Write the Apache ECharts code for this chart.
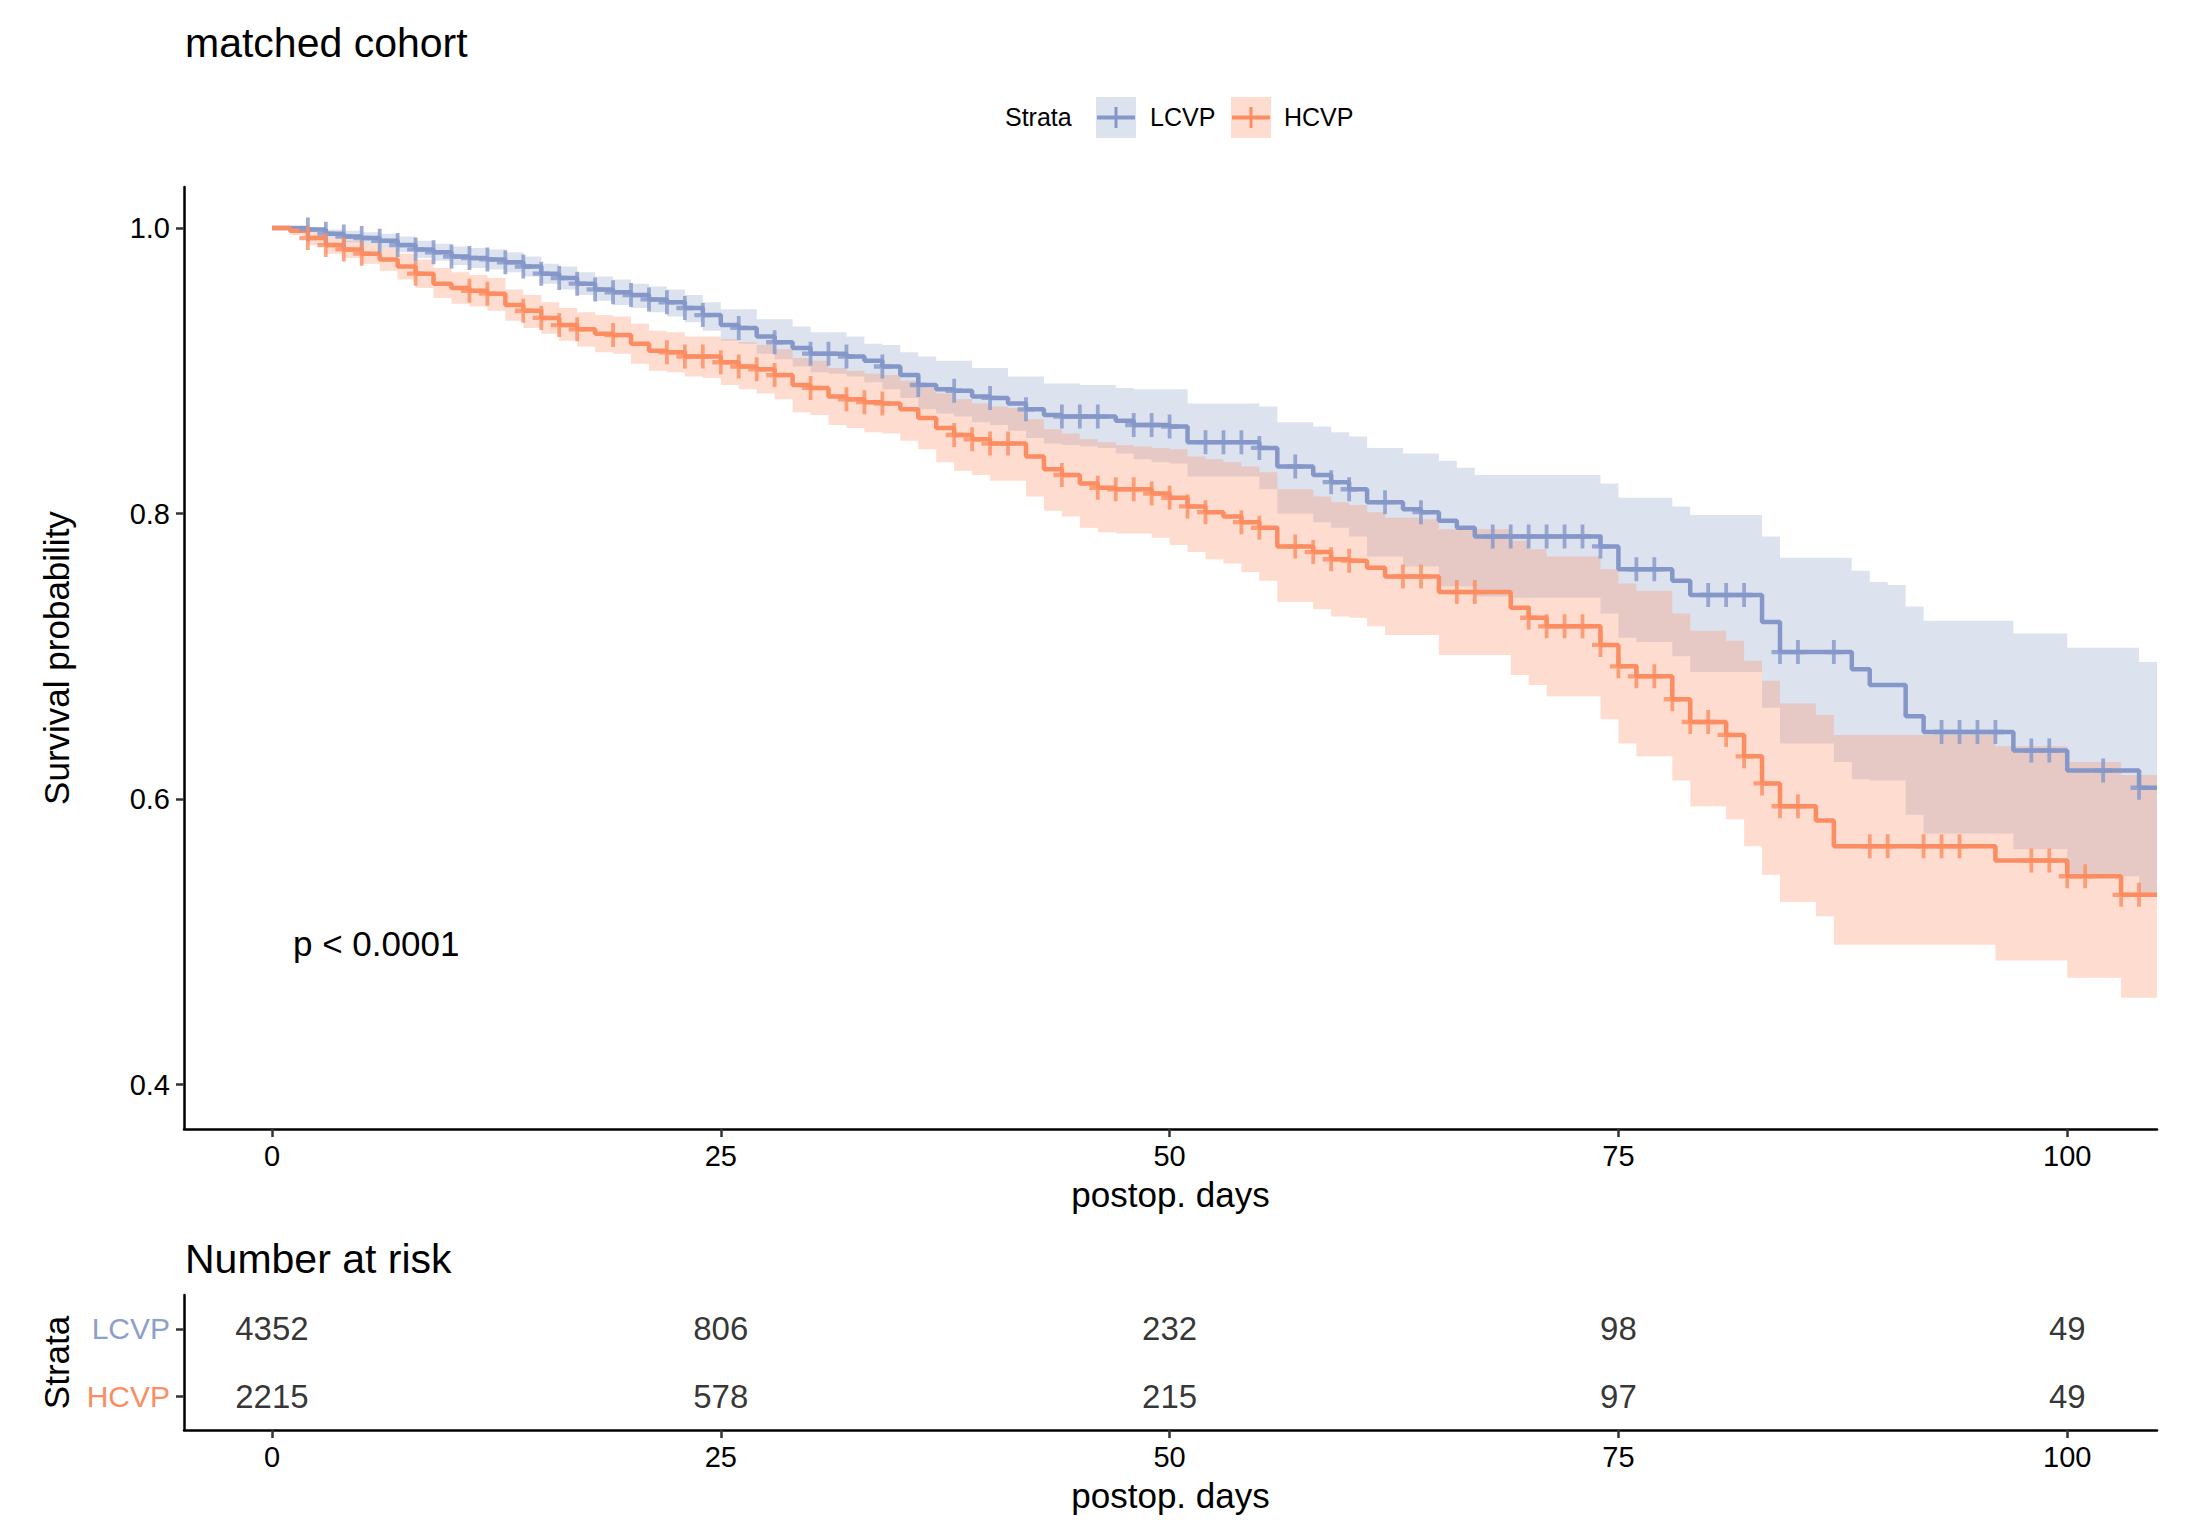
<!DOCTYPE html>
<html>
<head>
<meta charset="utf-8">
<script src="https://cdn.jsdelivr.net/npm/echarts@6/dist/echarts.min.js"></script>
<style>
html,body{margin:0;padding:0;background:#fff;}
#chart{width:2201px;height:1536px;}
</style>
</head>
<body>
<div id="chart"></div>
<script>
// ---- data (index = postoperative day 0..105) ----
const lcvpSurv = [1.000,1.000,0.999,0.996,0.994,0.993,0.991,0.988,0.985,0.983,
  0.980,0.979,0.978,0.976,0.973,0.968,0.965,0.961,0.957,0.955,
  0.953,0.950,0.948,0.944,0.939,0.932,0.930,0.924,0.920,0.916,
  0.912,0.912,0.910,0.907,0.903,0.897,0.890,0.887,0.886,0.882,
  0.881,0.877,0.873,0.869,0.868,0.868,0.868,0.865,0.862,0.862,
  0.861,0.850,0.850,0.850,0.850,0.846,0.833,0.833,0.827,0.822,
  0.817,0.808,0.808,0.803,0.801,0.795,0.790,0.784,0.784,0.784,
  0.784,0.784,0.784,0.784,0.777,0.761,0.761,0.761,0.753,0.743,
  0.743,0.743,0.743,0.724,0.703,0.703,0.703,0.703,0.691,0.680,
  0.680,0.658,0.647,0.647,0.647,0.647,0.647,0.634,0.634,0.634,
  0.620,0.620,0.620,0.620,0.608,0.608];
const lcvpUpper = [1.000,1.000,1.000,0.999,0.998,0.997,0.996,0.994,0.991,0.989,
  0.987,0.986,0.985,0.983,0.980,0.975,0.973,0.969,0.966,0.964,
  0.961,0.959,0.957,0.953,0.948,0.943,0.943,0.936,0.936,0.931,
  0.927,0.927,0.924,0.919,0.918,0.913,0.910,0.907,0.907,0.902,
  0.902,0.896,0.896,0.891,0.891,0.890,0.890,0.888,0.887,0.887,
  0.887,0.877,0.877,0.877,0.877,0.875,0.864,0.864,0.861,0.857,
  0.854,0.846,0.846,0.842,0.842,0.837,0.832,0.827,0.827,0.827,
  0.827,0.827,0.827,0.827,0.821,0.811,0.811,0.811,0.805,0.799,
  0.799,0.799,0.799,0.784,0.769,0.769,0.769,0.769,0.760,0.752,
  0.750,0.735,0.725,0.725,0.725,0.725,0.725,0.716,0.716,0.716,
  0.706,0.706,0.706,0.706,0.696,0.696];
const lcvpLower = [1.000,0.999,0.997,0.993,0.990,0.989,0.986,0.983,0.979,0.977,
  0.974,0.972,0.971,0.969,0.966,0.961,0.957,0.953,0.949,0.946,
  0.944,0.941,0.938,0.934,0.928,0.921,0.919,0.912,0.908,0.903,
  0.899,0.898,0.896,0.892,0.887,0.881,0.873,0.870,0.868,0.864,
  0.862,0.858,0.853,0.849,0.848,0.847,0.846,0.842,0.838,0.836,
  0.835,0.826,0.826,0.826,0.826,0.817,0.800,0.800,0.794,0.790,
  0.784,0.770,0.770,0.763,0.763,0.749,0.749,0.742,0.742,0.741,
  0.741,0.741,0.741,0.741,0.730,0.713,0.710,0.710,0.700,0.689,
  0.689,0.689,0.689,0.664,0.639,0.639,0.639,0.626,0.614,0.613,
  0.613,0.589,0.576,0.576,0.576,0.576,0.576,0.565,0.565,0.565,
  0.546,0.546,0.546,0.546,0.532,0.532];
const hcvpSurv = [1.000,0.998,0.993,0.988,0.985,0.982,0.978,0.973,0.968,0.961,
  0.958,0.956,0.954,0.946,0.942,0.937,0.932,0.929,0.926,0.925,
  0.919,0.914,0.913,0.910,0.910,0.906,0.903,0.901,0.897,0.890,
  0.888,0.882,0.880,0.878,0.877,0.873,0.867,0.860,0.855,0.852,
  0.849,0.849,0.840,0.831,0.827,0.821,0.818,0.817,0.817,0.814,
  0.811,0.805,0.801,0.798,0.794,0.790,0.777,0.777,0.773,0.768,
  0.767,0.762,0.756,0.756,0.756,0.745,0.745,0.745,0.745,0.734,
  0.727,0.721,0.721,0.721,0.708,0.693,0.686,0.686,0.670,0.654,
  0.654,0.645,0.630,0.611,0.595,0.595,0.585,0.567,0.567,0.567,
  0.567,0.567,0.567,0.567,0.567,0.567,0.557,0.557,0.557,0.557,
  0.546,0.546,0.546,0.533,0.533,0.533];
const hcvpUpper = [1.000,1.000,0.997,0.993,0.991,0.989,0.986,0.982,0.978,0.972,
  0.969,0.967,0.965,0.957,0.953,0.948,0.944,0.941,0.939,0.938,
  0.933,0.928,0.927,0.924,0.924,0.922,0.920,0.918,0.915,0.909,
  0.907,0.902,0.900,0.898,0.897,0.893,0.888,0.884,0.880,0.877,
  0.875,0.874,0.866,0.859,0.856,0.852,0.850,0.848,0.847,0.846,
  0.845,0.840,0.838,0.836,0.833,0.829,0.817,0.817,0.812,0.808,
  0.806,0.801,0.797,0.797,0.796,0.789,0.789,0.789,0.789,0.781,
  0.775,0.770,0.770,0.770,0.761,0.751,0.746,0.746,0.730,0.718,
  0.718,0.711,0.697,0.683,0.667,0.667,0.659,0.645,0.645,0.645,
  0.645,0.645,0.645,0.645,0.645,0.645,0.637,0.637,0.637,0.637,
  0.626,0.626,0.626,0.617,0.617,0.617];
const hcvpLower = [1.000,0.995,0.988,0.982,0.979,0.975,0.970,0.964,0.958,0.951,
  0.947,0.945,0.942,0.935,0.930,0.926,0.921,0.917,0.913,0.912,
  0.905,0.900,0.899,0.896,0.895,0.890,0.887,0.884,0.880,0.871,
  0.869,0.862,0.860,0.857,0.856,0.851,0.845,0.836,0.830,0.827,
  0.823,0.823,0.812,0.802,0.798,0.790,0.787,0.786,0.786,0.783,
  0.778,0.773,0.768,0.765,0.759,0.753,0.738,0.738,0.733,0.728,
  0.727,0.721,0.715,0.715,0.715,0.701,0.701,0.701,0.701,0.687,
  0.680,0.672,0.672,0.672,0.656,0.639,0.630,0.630,0.613,0.595,
  0.595,0.586,0.567,0.547,0.528,0.528,0.518,0.498,0.498,0.498,
  0.498,0.498,0.498,0.498,0.498,0.498,0.487,0.487,0.487,0.487,
  0.475,0.475,0.475,0.461,0.461,0.461];
// censoring marks (days)
const lcvpCensor = [2,3,4,5,6,7,8,9,10,11,12,13,14,15,16,17,18,19,20,21,22,23,24,26,28,30,31,32,34,36,38,40,42,44,45,46,48,49,50,52,53,54,55,57,59,60,62,64,68,69,70,71,72,73,74,76,77,80,81,82,84,85,87,93,94,95,96,98,99,102,104];
const hcvpCensor = [2,3,4,5,8,11,12,14,15,16,17,19,22,23,24,25,26,27,28,30,32,33,34,38,39,40,41,44,46,47,48,49,50,51,52,54,55,57,58,59,60,63,64,66,67,70,71,72,73,74,75,76,77,78,79,80,81,82,83,84,85,89,90,92,93,94,98,99,100,101,103,104];
// number at risk
const riskDays = [0,25,50,75,100];
const lcvpRisk = [4352,806,232,98,49];
const hcvpRisk = [2215,578,215,97,49];
const strata = ['HCVP','LCVP'];
const xTicks = [0,25,50,75,100];
const yTicks = [0.4,0.6,0.8,1.0];

// ---- styles ----
const FONT = "'Liberation Sans', Arial, sans-serif";
const BLUE = '#8497C8', ORANGE = '#FC8D62';
const BLUE_BAND = 'rgba(141,160,203,0.30)', ORANGE_BAND = 'rgba(252,141,98,0.30)';
const PLUS = 'path://M-2,-11H2V11H-2Z M-9,-2H9V2H-9Z';

const toXY = arr => arr.map((v, i) => [i, v]);
const censorPts = (days, surv) => days.map(d => [d, surv[d]]);

// confidence band drawn as one step polygon through the axis scales
function bandSeries(name, lo, hi, color) {
  return {
    name: name, type: 'custom', coordinateSystem: 'cartesian2d', z: 1, silent: true,
    data: [[0, hi[0]]],
    renderItem: function (params, api) {
      const pts = [];
      for (let i = 0; i < hi.length - 1; i++) {
        pts.push(api.coord([i, hi[i]]), api.coord([i + 1, hi[i]]));
      }
      for (let i = lo.length - 2; i >= 0; i--) {
        pts.push(api.coord([i + 1, lo[i]]), api.coord([i, lo[i]]));
      }
      return {type: 'polygon', shape: {points: pts}, style: {fill: color, stroke: null}};
    }
  };
}

const axisLineX = {show: true, onZero: false, lineStyle: {color: '#000', width: 2.5}};
const axisLineY = {show: true, onZero: false, lineStyle: {color: '#000', width: 2.5}};
const axisTick = (vals) => ({show: true, length: 8, lineStyle: {color: '#333', width: 2.5}, customValues: vals});

const chart = echarts.init(document.getElementById('chart'), null, {renderer: 'svg'});
chart.setOption({
  animation: false,
  backgroundColor: '#fff',
  textStyle: {fontFamily: FONT},
  grid: [
    {left: 184, right: 44, top: 187, bottom: 407},
    {left: 184, right: 44, top: 1295, bottom: 106}
  ],
  xAxis: [
    {type: 'value', gridIndex: 0, min: -4.9, max: 105, splitLine: {show: false},
     axisLine: axisLineX, axisTick: axisTick(xTicks),
     axisLabel: {customValues: xTicks, fontSize: 29, color: '#000', margin: 12, fontFamily: FONT},
     name: 'postop. days', nameLocation: 'middle', nameGap: 48,
     nameTextStyle: {fontSize: 35, color: '#000', fontFamily: FONT}},
    {type: 'value', gridIndex: 1, min: -4.9, max: 105, splitLine: {show: false},
     axisLine: axisLineX, axisTick: axisTick(xTicks),
     axisLabel: {customValues: xTicks, fontSize: 29, color: '#000', margin: 12, fontFamily: FONT},
     name: 'postop. days', nameLocation: 'middle', nameGap: 48,
     nameTextStyle: {fontSize: 35, color: '#000', fontFamily: FONT}}
  ],
  yAxis: [
    {type: 'value', gridIndex: 0, min: 0.369, max: 1.0287, splitLine: {show: false},
     axisLine: axisLineY, axisTick: axisTick(yTicks),
     axisLabel: {customValues: yTicks, fontSize: 29, color: '#000', margin: 14, fontFamily: FONT,
       formatter: v => v.toFixed(1)},
     name: 'Survival probability', nameLocation: 'middle', nameGap: 110, nameRotate: 90,
     nameTextStyle: {fontSize: 35, color: '#000', fontFamily: FONT}},
    {type: 'category', gridIndex: 1, data: strata, splitLine: {show: false},
     axisLine: axisLineY,
     axisTick: {show: true, alignWithLabel: true, length: 8, lineStyle: {color: '#333', width: 2.5}},
     axisLabel: {margin: 14, fontFamily: FONT,
       formatter: v => '{' + v + '|' + v + '}',
       rich: {LCVP: {color: '#8DA0CB', fontSize: 30, fontFamily: FONT},
              HCVP: {color: ORANGE, fontSize: 30, fontFamily: FONT}}},
     name: 'Strata', nameLocation: 'middle', nameGap: 110, nameRotate: 90,
     nameTextStyle: {fontSize: 35, color: '#000', fontFamily: FONT}}
  ],
  series: [
    bandSeries('LCVP 95% CI', lcvpLower, lcvpUpper, BLUE_BAND),
    bandSeries('HCVP 95% CI', hcvpLower, hcvpUpper, ORANGE_BAND),
    {name: 'LCVP', type: 'line', step: 'end', data: toXY(lcvpSurv), symbol: 'none', z: 2,
     lineStyle: {color: BLUE, width: 4.5}},
    {name: 'HCVP', type: 'line', step: 'end', data: toXY(hcvpSurv), symbol: 'none', z: 2,
     lineStyle: {color: ORANGE, width: 4.5}},
    {name: 'LCVP censor', type: 'scatter', data: censorPts(lcvpCensor, lcvpSurv), symbol: PLUS, z: 3,
     symbolSize: [17, 24], itemStyle: {color: BLUE}},
    {name: 'HCVP censor', type: 'scatter', data: censorPts(hcvpCensor, hcvpSurv), symbol: PLUS, z: 3,
     symbolSize: [17, 24], itemStyle: {color: ORANGE}},
    {name: 'risk LCVP', type: 'scatter', xAxisIndex: 1, yAxisIndex: 1, symbolSize: 2,
     itemStyle: {color: 'rgba(0,0,0,0)'},
     data: riskDays.map((d, i) => [d, 'LCVP', lcvpRisk[i]]),
     label: {show: true, position: 'inside', formatter: p => String(p.value[2]),
       fontSize: 33, color: '#000', fontFamily: FONT}},
    {name: 'risk HCVP', type: 'scatter', xAxisIndex: 1, yAxisIndex: 1, symbolSize: 2,
     itemStyle: {color: 'rgba(0,0,0,0)'},
     data: riskDays.map((d, i) => [d, 'HCVP', hcvpRisk[i]]),
     label: {show: true, position: 'inside', formatter: p => String(p.value[2]),
       fontSize: 33, color: '#000', fontFamily: FONT}}
  ],
  graphic: [
    {type: 'text', left: 185, top: 22, style: {text: 'matched cohort', fontSize: 41, fill: '#000', fontFamily: FONT}},
    {type: 'text', left: 185, top: 1238, style: {text: 'Number at risk', fontSize: 41, fill: '#000', fontFamily: FONT}},
    {type: 'text', left: 293, top: 926, style: {text: 'p < 0.0001', fontSize: 35, fill: '#000', fontFamily: FONT}},
    {type: 'text', left: 1005, top: 104, style: {text: 'Strata', fontSize: 25, fill: '#000', fontFamily: FONT}},
    {type: 'rect', shape: {x: 1096, y: 97, width: 40, height: 41}, style: {fill: BLUE_BAND}},
    {type: 'line', shape: {x1: 1097, y1: 117.5, x2: 1135, y2: 117.5}, style: {stroke: BLUE, lineWidth: 4}},
    {type: 'line', shape: {x1: 1116, y1: 107, x2: 1116, y2: 128}, style: {stroke: BLUE, lineWidth: 3}},
    {type: 'text', left: 1150, top: 104, style: {text: 'LCVP', fontSize: 25, fill: '#000', fontFamily: FONT}},
    {type: 'rect', shape: {x: 1231, y: 97, width: 40, height: 41}, style: {fill: ORANGE_BAND}},
    {type: 'line', shape: {x1: 1232, y1: 117.5, x2: 1270, y2: 117.5}, style: {stroke: ORANGE, lineWidth: 4}},
    {type: 'line', shape: {x1: 1251, y1: 107, x2: 1251, y2: 128}, style: {stroke: ORANGE, lineWidth: 3}},
    {type: 'text', left: 1284, top: 104, style: {text: 'HCVP', fontSize: 25, fill: '#000', fontFamily: FONT}}
  ]
});
</script>
</body>
</html>
